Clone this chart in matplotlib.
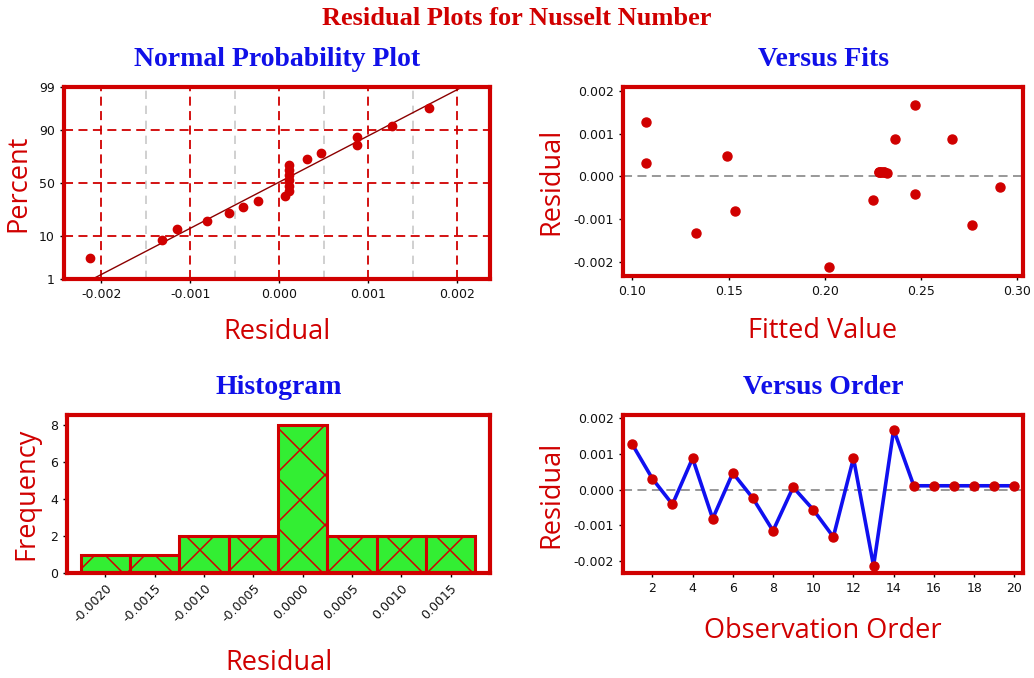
import matplotlib
matplotlib.use("Agg")
import matplotlib.pyplot as plt
import numpy as np
from statistics import NormalDist
from matplotlib.backend_bases import GraphicsContextBase
from matplotlib.path import Path

# Residuos del modelo en orden de observación
residuos = [0.00127, 0.00031, -0.00041, 0.00088, -0.00081, 0.00047, -0.00024,
            -0.00115, 0.00007, -0.00056, -0.00132, 0.00088, -0.00213, 0.00168,
            0.00011, 0.00011, 0.00011, 0.00011, 0.00011, 0.00011]
# Valores ajustados correspondientes
ajustados = [0.1068, 0.1068, 0.2467, 0.2363, 0.1533, 0.1491, 0.2910,
             0.2766, 0.2326, 0.2249, 0.1328, 0.2660, 0.2023, 0.2467,
             0.2281, 0.2281, 0.2306, 0.2306, 0.2292, 0.2292]
orden = list(range(1, 21))

# Histograma: centros de clase
centros_hist = [-0.0020, -0.0015, -0.0010, -0.0005, 0.0000, 0.0005, 0.0010, 0.0015]
percent_ticks = [1, 10, 50, 90, 99]

ROJO = '#D00000'
AZUL = '#1010E8'
VERDE = '#33EE33'


# Trama de cruces más abierta que la que trae matplotlib por defecto
def _hatch_abierto(self, density=6.0):
    hatch = self.get_hatch()
    if hatch is None:
        return None
    return Path.hatch(hatch, 4.4)


GraphicsContextBase.get_hatch_path = _hatch_abierto
plt.rcParams['hatch.linewidth'] = 1.1

W, H = 1034, 678
fig = plt.figure(figsize=(W / 100, H / 100), dpi=100)


def caja(x0, y0, x1, y1):
    # posición en píxeles (izq, arriba, der, abajo) -> fracción de figura
    return [x0 / W, 1 - y1 / H, (x1 - x0) / W, (y1 - y0) / H]


def estilo(ax, titulo, xlabel, ylabel, xpad=6, ypad=6):
    for s in ax.spines.values():
        s.set_color(ROJO)
        s.set_linewidth(3)
    ax.tick_params(direction='out', length=3, width=1, color='black',
                   labelsize=9, labelcolor='#111111')
    ax.set_title(titulo, color=AZUL, fontsize=20, fontweight='bold',
                 family='Liberation Serif', pad=15)
    ax.set_xlabel(xlabel, color=ROJO, fontsize=19.5, family='Open Sans', labelpad=xpad)
    ax.set_ylabel(ylabel, color=ROJO, fontsize=19.5, family='Open Sans', labelpad=ypad)


fig.suptitle('Residual Plots for Nusselt Number', color=ROJO, fontsize=19,
             fontweight='bold', family='Liberation Serif', y=0.99)

r = np.array(residuos)
nd = NormalDist()

# 1. Gráfico de probabilidad normal
ax1 = fig.add_axes(caja(64, 87, 490, 279))
r_ord = np.sort(r)
n = len(r_ord)
z = np.array([nd.inv_cdf((i - 0.3) / (n + 0.4)) for i in range(1, n + 1)])
z_lim = (nd.inv_cdf(0.01), nd.inv_cdf(0.99))
media, sd = r.mean(), r.std(ddof=1)
for xv in [-0.0015, -0.0005, 0.0005, 0.0015]:
    ax1.axvline(xv, color='#C8C8C8', ls=(0, (5, 4)), lw=1.2, zorder=1)
for xv in [-0.002, -0.001, 0.0, 0.001, 0.002]:
    ax1.axvline(xv, color=ROJO, ls=(0, (5, 3)), lw=1.3, zorder=1)
for p in percent_ticks[1:-1]:
    ax1.axhline(nd.inv_cdf(p / 100), color=ROJO, ls=(0, (5, 3)), lw=1.3, zorder=1)
ax1.plot([media + z_lim[0] * sd, media + z_lim[1] * sd], z_lim, color='#8B0000', lw=1, zorder=2)
ax1.plot(r_ord, z, 'o', color=ROJO, ms=6, zorder=3)
ax1.set_ylim(z_lim)
ax1.set_yticks([nd.inv_cdf(p / 100) for p in percent_ticks])
ax1.set_yticklabels([str(p) for p in percent_ticks])
ax1.set_xlim(-0.00242, 0.00237)
ax1.set_xticks([-0.002, -0.001, 0.0, 0.001, 0.002])
ax1.set_xticklabels(['-0.002', '-0.001', '0.000', '0.001', '0.002'])
estilo(ax1, 'Normal Probability Plot', 'Residual', 'Percent', xpad=12, ypad=5)

# 2. Residuos contra valores ajustados
ax2 = fig.add_axes(caja(623, 87, 1023, 276))
ax2.axhline(0, color='#909090', ls=(0, (5, 3)), lw=1.3, zorder=1)
ax2.plot(ajustados, residuos, 'o', color=ROJO, ms=6.5, zorder=3)
ax2.set_xlim(0.0951, 0.3031)
ax2.set_ylim(-0.00234, 0.0021)
ax2.set_xticks([0.10, 0.15, 0.20, 0.25, 0.30])
ax2.set_xticklabels(['0.10', '0.15', '0.20', '0.25', '0.30'])
ax2.set_yticks([-0.002, -0.001, 0.0, 0.001, 0.002])
ax2.set_yticklabels(['-0.002', '-0.001', '0.000', '0.001', '0.002'])
estilo(ax2, 'Versus Fits', 'Fitted Value', 'Residual', xpad=14, ypad=6)

# 3. Histograma de residuos
ax3 = fig.add_axes(caja(67, 415, 490, 573))
ancho = centros_hist[1] - centros_hist[0]
bordes = [c - ancho / 2 for c in centros_hist] + [centros_hist[-1] + ancho / 2]
ax3.hist(r, bins=bordes, color=VERDE, edgecolor=ROJO, linewidth=2.2, hatch='x')
ax3.set_xlim(-0.00239, 0.0019)
ax3.set_ylim(0, 8.55)
ax3.set_yticks([0, 2, 4, 6, 8])
ax3.set_xticks(centros_hist)
ax3.set_xticklabels([f'{c:.4f}' for c in centros_hist], rotation=45, ha='right',
                    rotation_mode='anchor')
estilo(ax3, 'Histogram', 'Residual', 'Frequency', xpad=17, ypad=7)

# 4. Residuos contra orden de observación
ax4 = fig.add_axes(caja(623, 415, 1023, 573))
ax4.axhline(0, color='#909090', ls=(0, (5, 3)), lw=1.3, zorder=1)
ax4.plot(orden, residuos, '-', color='#1010F0', lw=2.6, zorder=2)
ax4.plot(orden, residuos, 'o', color=ROJO, ms=6.5, zorder=3)
ax4.set_xlim(0.54, 20.43)
ax4.set_ylim(-0.00233, 0.00209)
ax4.set_xticks(range(2, 21, 2))
ax4.set_yticks([-0.002, -0.001, 0.0, 0.001, 0.002])
ax4.set_yticklabels(['-0.002', '-0.001', '0.000', '0.001', '0.002'])
estilo(ax4, 'Versus Order', 'Observation Order', 'Residual', xpad=16, ypad=6)

fig.savefig('out.png', dpi=100)
